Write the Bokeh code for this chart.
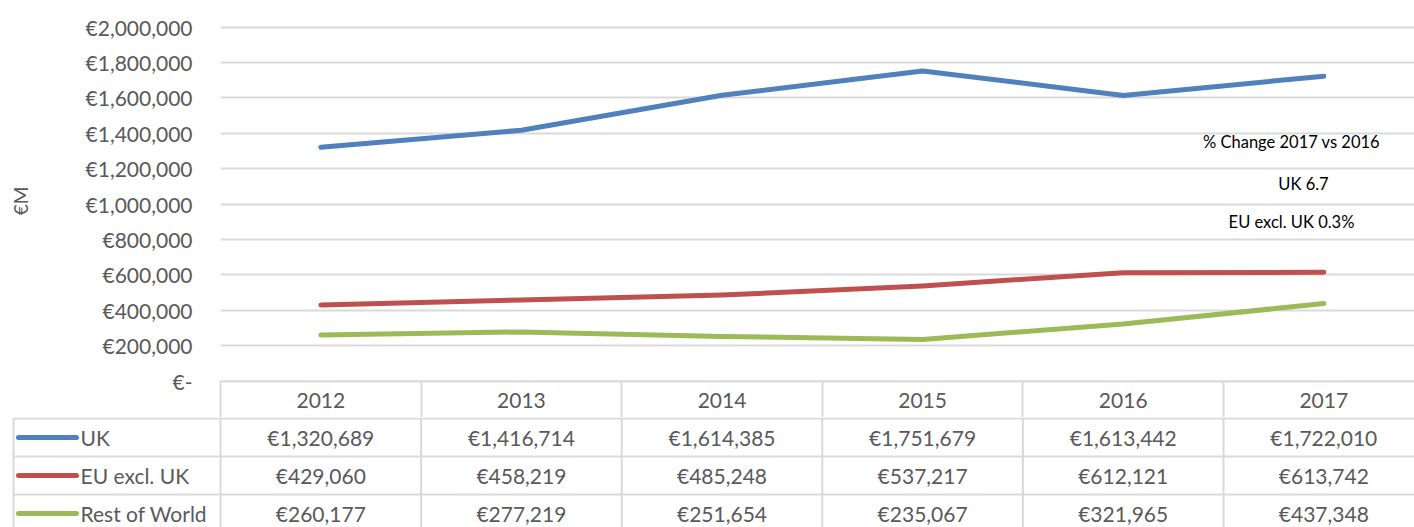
from bokeh.plotting import figure
from bokeh.layouts import column
from bokeh.models import Range1d, FixedTicker, Label, ColumnDataSource
from bokeh.embed import file_html
from bokeh.resources import INLINE
from bokeh.core.properties import value

# ---------------- data ----------------
years = ["2012", "2013", "2014", "2015", "2016", "2017"]
series_names = ["UK", "EU excl. UK", "Rest of World"]
uk = [1320689, 1416714, 1614385, 1751679, 1613442, 1722010]
eu_excl_uk = [429060, 458219, 485248, 537217, 612121, 613742]
rest_of_world = [260177, 277219, 251654, 235067, 321965, 437348]
y_ticks = [0, 200000, 400000, 600000, 800000, 1000000, 1200000,
           1400000, 1600000, 1800000, 2000000]
y_label = "€M"
notes = ["% Change 2017 vs 2016", "UK 6.7", "EU excl. UK 0.3%"]

series = [uk, eu_excl_uk, rest_of_world]

# ---------------- style / layout ----------------
colors = ["#4F81BD", "#C0504D", "#9BBB59"]
FONT = "Lato"
TXT = "#595959"
GRID = "#D9D9D9"
FS = "21px"

W = 1414
H = 527
TOP_H = 417
FRAME_L = 220
FRAME_T = 20
FRAME_B = 381
COL_W = 200.6
Y0_PX = 380.5
YMAX_PX = 26.5
YMAX = y_ticks[-1]
HDR_H = TOP_H - FRAME_B

px_per_val = (Y0_PX - YMAX_PX) / YMAX
y_start = -(FRAME_B - Y0_PX) / px_per_val
y_end = YMAX + (YMAX_PX - FRAME_T) / px_per_val
x_end = (W - FRAME_L) / COL_W

def px_to_x(px):
    return (px - FRAME_L) / COL_W

def py_to_y(py):
    return (Y0_PX - py) / px_per_val

xs = [i + 0.5 for i in range(len(years))]

# ---------------- chart ----------------
p = figure(width=W, height=TOP_H,
           x_range=Range1d(-0.0001, x_end), y_range=Range1d(y_start, y_end),
           output_backend="svg", toolbar_location=None,
           min_border_left=FRAME_L, min_border_right=0,
           min_border_top=FRAME_T, min_border_bottom=HDR_H)
p.frame_align = False
p.outline_line_color = None
p.background_fill_color = "white"
p.border_fill_color = "white"

p.xgrid.visible = False
p.ygrid.grid_line_color = GRID
p.ygrid.grid_line_width = 2

# y axis
yax = p.yaxis[0]
yax.ticker = FixedTicker(ticks=y_ticks, minor_ticks=[])
yax.major_label_overrides = {t: ("€-" if t == 0 else f"€{t:,}") for t in y_ticks}
yax.axis_line_color = None
yax.major_tick_line_color = None
yax.minor_tick_line_color = None
yax.major_tick_out = 0
yax.major_tick_in = 0
yax.minor_tick_out = 0
yax.minor_tick_in = 0
yax.major_label_standoff = 28
yax.major_label_text_font = FONT
yax.major_label_text_font_size = FS
yax.major_label_text_color = TXT
yax.axis_label = y_label
yax.axis_label_text_font = FONT
yax.axis_label_text_font_size = "19px"
yax.axis_label_text_font_style = "normal"
yax.axis_label_text_color = TXT
yax.axis_label_standoff = 51

# x axis: years as header row of the data table
xax = p.xaxis[0]
xax.ticker = FixedTicker(ticks=xs, minor_ticks=list(range(len(years) + 1)))
xax.major_label_overrides = {x: y for x, y in zip(xs, years)}
xax.axis_line_color = GRID
xax.axis_line_width = 2
xax.major_tick_line_color = None
xax.major_tick_out = 0
xax.major_tick_in = 0
xax.minor_tick_line_color = GRID
xax.minor_tick_line_width = 2
xax.minor_tick_out = HDR_H
xax.minor_tick_in = 0
xax.major_label_standoff = 11 - HDR_H
xax.major_label_text_font = FONT
xax.major_label_text_font_size = FS
xax.major_label_text_color = TXT

for vals, c in zip(series, colors):
    p.line(xs, vals, line_color=c, line_width=5, line_cap="round", line_join="round")

note_px = [(1291, 141), (1303, 183), (1291, 221)]
for txt, (nx, ny) in zip(notes, note_px):
    p.add_layout(Label(x=px_to_x(nx), y=py_to_y(ny), text=txt,
                       text_font=FONT, text_font_size="16.5px", text_color="#000000",
                       text_align="center", text_baseline="middle"))

# ---------------- data table ----------------
TAB_H = H - TOP_H
ROW_H = 38
LEG_L = 13

t = figure(width=W, height=TAB_H,
           x_range=Range1d(px_to_x(0), x_end),
           y_range=Range1d((TAB_H - 1) / ROW_H, -1 / ROW_H),
           output_backend="svg", toolbar_location=None,
           x_axis_location=None, y_axis_location=None,
           min_border=0)
t.frame_align = False
t.outline_line_color = None
t.grid.visible = False
t.background_fill_color = "white"
t.border_fill_color = "white"

nrows = len(series)
# horizontal row lines
t.segment(x0=[px_to_x(LEG_L)] * (nrows + 1), x1=[x_end + 1] * (nrows + 1),
          y0=list(range(nrows + 1)), y1=list(range(nrows + 1)),
          line_color=GRID, line_width=2)
# vertical column lines
vx = [px_to_x(LEG_L)] + list(range(len(years) + 1))
t.segment(x0=vx, x1=vx, y0=[0] * len(vx), y1=[nrows + 1] * len(vx),
          line_color=GRID, line_width=2)

# legend keys + names
t.segment(x0=[px_to_x(18)] * nrows, x1=[px_to_x(76)] * nrows,
          y0=[r + 0.5 for r in range(nrows)], y1=[r + 0.5 for r in range(nrows)],
          line_color=colors, line_width=5, line_cap="round")
t.text(x=[px_to_x(80)] * nrows, y=[r + 0.5 for r in range(nrows)], text=series_names,
       text_font=value(FONT), text_font_size=FS, text_color=TXT,
       text_align="left", text_baseline="middle")

# values
cx, cy, ct = [], [], []
for r, vals in enumerate(series):
    for i, v in enumerate(vals):
        cx.append(i + 0.5)
        cy.append(r + 0.5)
        ct.append(f"€{v:,}")
t.text(x="x", y="y", text="t", source=ColumnDataSource(dict(x=cx, y=cy, t=ct)),
       text_font=value(FONT), text_font_size=FS, text_color=TXT,
       text_align="center", text_baseline="middle")

layout = column(p, t, spacing=0)
open("out.html", "w").write(file_html(layout, INLINE))
